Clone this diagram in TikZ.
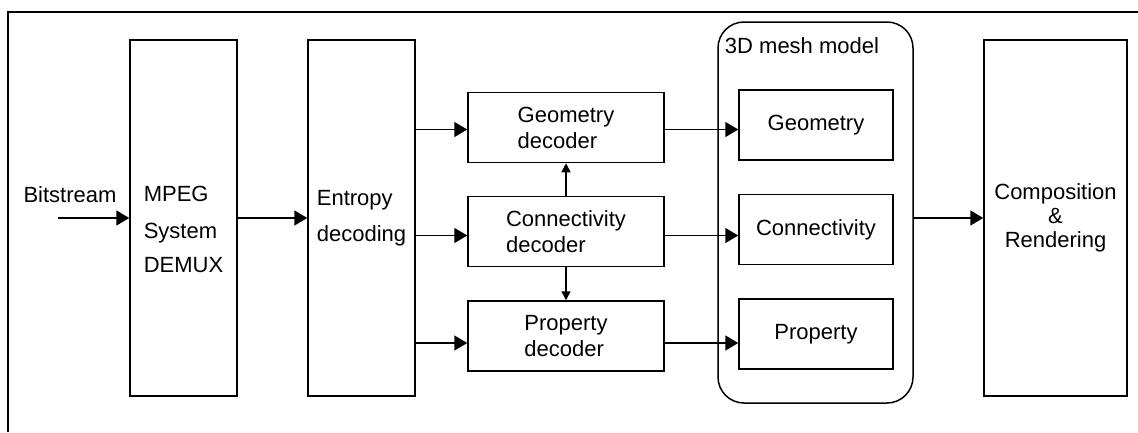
\documentclass[tikz,border=0pt]{standalone}
\usepackage{fontspec}
\setmainfont{Liberation Sans}
\usetikzlibrary{arrows.meta, positioning}

\begin{document}
\begin{tikzpicture}[x=1pt,y=-1pt,->,>={Triangle[length=13pt,width=15pt]},line width=1.5pt,
       font=\fontsize{22}{26}\selectfont]
       \tikzstyle{tall}=[draw,rectangle,minimum width=107pt,minimum height=356pt,align=left,inner sep=2pt]
       \tikzstyle{dec}=[draw,rectangle,minimum width=196pt,minimum height=70pt,align=left,inner sep=2pt]
       \tikzstyle{part}=[draw,rectangle,minimum width=154pt,minimum height=70pt,inner sep=2pt]
       \tikzstyle{small}=[-{Triangle[length=9pt,width=9pt]}]

       \useasboundingbox (0,0) rectangle (1138,432);
       \draw[-] (8,432) -- (8,12) -- (1138,12);

       \node[tall,text height=110pt]  (demux) at (183.5,218) {MPEG\\[11pt]System\\[8pt]DEMUX};
       \node[tall]  (ent)   at (361.5,218) {Entropy\\[10pt]decoding};

       \node        (bits)  at (70,195) {Bitstream};
       \coordinate  (src)   at (58,218);

       \node[dec]   (gdec)  at (566,127.5) {Geometry\\decoder};
       \node[dec]   (cdec)  at (566,231.5) {Connectivity\\decoder};
       \node[dec]   (pdec)  at (566,336)   {Property\\decoder};

       \node[draw,rectangle,rounded corners=26pt,minimum width=195pt,minimum height=381pt] (mesh) at (815.5,212.5) {};
       \node        (meshlbl) at (802,46) {3D mesh model};
       \node[part]  (geo)   at (816,125)   {Geometry};
       \node[part]  (con)   at (816,229.5) {Connectivity};
       \node[part]  (prop)  at (816,334)   {Property};

       \node[draw,rectangle,minimum width=143pt,minimum height=356pt,align=center] (comp) at (1055.5,218)
            {Composition\\[-2pt]\&\\[-2pt]Rendering};

       % input and demux
       \draw (src) -- (demux.west |- src);
       \draw (demux.east) -- (ent.west);

       % entropy to decoders
       \draw ([yshift=-2pt]ent.east |- gdec.west) -- ([yshift=-2pt]gdec.west);
       \draw ([yshift=-4pt]ent.east |- cdec.west) -- ([yshift=-4pt]cdec.west);
       \draw ([yshift=-7pt]ent.east |- pdec.west) -- ([yshift=-7pt]pdec.west);

       \draw[small] (cdec.north) -- (gdec.south);
       \draw[small] (cdec.south) -- (pdec.north);

       % decoders to mesh parts
       \draw ([yshift=-2pt]gdec.east) -- ([yshift=-2pt]gdec.east -| geo.west);
       \draw ([yshift=-4pt]cdec.east) -- ([yshift=-4pt]cdec.east -| con.west);
       \draw ([yshift=-7pt]pdec.east) -- ([yshift=-7pt]pdec.east -| prop.west);

       \draw (mesh.east |- comp.west) -- (comp.west);
\end{tikzpicture}
\end{document}
